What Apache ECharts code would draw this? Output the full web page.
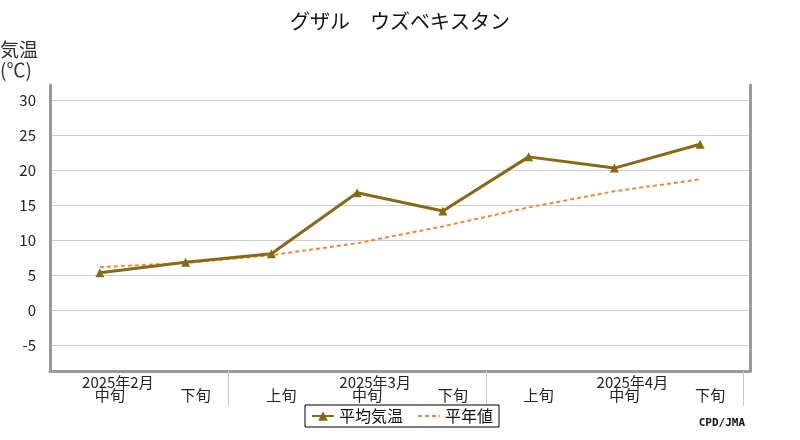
<!DOCTYPE html>
<html>
<head>
<meta charset="utf-8">
<script src="https://cdn.jsdelivr.net/npm/echarts@6/dist/echarts.min.js"></script>
<style>
html,body{margin:0;padding:0;background:#fff;}
#c{width:800px;height:440px;}
</style>
</head>
<body>
<div id="c"></div>
<script>
const categories = ['中旬','下旬','上旬','中旬','下旬','上旬','中旬','下旬'];
const months = ['2025年2月','','','2025年3月','','','2025年4月',''];
const avgTemp = [5.4, 6.9, 8.1, 16.8, 14.2, 21.9, 20.3, 23.7];
const normalTemp = [6.2, 6.8, 7.9, 9.6, 12.0, 14.7, 17.0, 18.7];
const yMin = -8.6, yTickMax = 30;

// layout: frame from y=85 to y=371, gridlines grid from y=100 (value 30) to y=371
const frameTop = 85, gridTop = 100, bottomGap = 69, H = 440;
const ppu = (H - bottomGap - gridTop) / (yTickMax - yMin);
const yMaxFrame = yTickMax + (gridTop - frameTop) / ppu;

const FONT = 'Noto Sans CJK JP';
const chart = echarts.init(document.getElementById('c'), null, {renderer: 'canvas'});
const frameColor = '#9a9a9a';

chart.setOption({
  animation: false,
  textStyle: {fontFamily: FONT},
  title: [
    {text: 'グザル　ウズベキスタン', left: 'center', top: 6,
     textStyle: {fontFamily: FONT, fontSize: 20, fontWeight: 'normal', color: '#111'}},
    {text: '気温\n(℃)', left: 0, top: 40, padding: 0,
     textStyle: {fontFamily: FONT, fontSize: 19, lineHeight: 20, fontWeight: 'normal', color: '#333'}},
    {text: 'CPD/JMA', right: 50, bottom: 6,
     textStyle: {fontFamily: 'DejaVu Sans Mono', fontSize: 11, fontWeight: 'bold', color: '#111'}}
  ],
  legend: {
    left: 305, top: 405,
    padding: [3, 6],
    borderColor: '#000', borderWidth: 1, borderRadius: 0,
    backgroundColor: '#fff',
    itemWidth: 22, itemHeight: 12, itemGap: 14,
    textStyle: {fontFamily: FONT, fontSize: 16, color: '#111'},
    data: [
      {name: '平均気温'},
      {name: '平年値', itemStyle: {opacity: 0}}
    ]
  },
  grid: [
    {left: 50, right: 50, top: gridTop, bottom: bottomGap},
    {left: 57, right: 57, top: frameTop, bottom: bottomGap}
  ],
  xAxis: [
    {gridIndex: 0, type: 'value', min: 0, max: 1,
     axisLine: {show: true, onZero: false, lineStyle: {color: frameColor, width: 3}},
     axisTick: {show: false}, axisLabel: {show: false}, splitLine: {show: false}},
    {gridIndex: 1, type: 'category', data: categories, boundaryGap: true, position: 'bottom',
     axisLine: {show: false, onZero: false},
     axisTick: {show: true, length: 35, interval: (i) => i === 2 || i === 5,
                lineStyle: {color: '#c8c8c8', width: 1}},
     axisLabel: {interval: 0, margin: 17, padding: [0, 0, 0, 20],
                 fontFamily: FONT, fontSize: 15, color: '#222'}},
    {gridIndex: 1, type: 'category', data: categories, boundaryGap: true, position: 'bottom',
     axisLine: {show: false, onZero: false},
     axisTick: {show: false},
     axisLabel: {interval: 0, margin: 4, padding: [0, 0, 0, 36],
                 formatter: (v, i) => months[i],
                 fontFamily: FONT, fontSize: 15, color: '#222'}}
  ],
  yAxis: [
    {gridIndex: 0, type: 'value', min: yMin, max: yTickMax, splitNumber: 8, position: 'left',
     axisLine: {show: false},
     axisTick: {show: false},
     axisLabel: {margin: 14, showMinLabel: false,
                 fontFamily: FONT, fontSize: 15, color: '#222'},
     splitLine: {show: true, lineStyle: {color: '#cfcfcf', width: 1}}},
    {gridIndex: 1, type: 'value', min: yMin, max: yMaxFrame, position: 'left', offset: 7,
     axisLine: {show: true, onZero: false, lineStyle: {color: frameColor, width: 3}},
     axisTick: {show: false}, axisLabel: {show: false}, splitLine: {show: false}},
    {gridIndex: 1, type: 'value', min: yMin, max: yMaxFrame, position: 'right', offset: 7,
     axisLine: {show: true, onZero: false, lineStyle: {color: frameColor, width: 3}},
     axisTick: {show: false}, axisLabel: {show: false}, splitLine: {show: false}}
  ],
  series: [
    {name: '平年値', type: 'line', xAxisIndex: 1, yAxisIndex: 1,
     data: normalTemp, symbol: 'none', color: '#f5862c',
     lineStyle: {color: '#f5862c', width: 2, type: [4, 3]}, z: 2},
    {name: '平均気温', type: 'line', xAxisIndex: 1, yAxisIndex: 1,
     data: avgTemp, symbol: 'triangle', symbolSize: 9, color: '#8b6914',
     itemStyle: {color: '#8b6914'},
     lineStyle: {color: '#8b6914', width: 3}, z: 3}
  ]
});
</script>
</body>
</html>
